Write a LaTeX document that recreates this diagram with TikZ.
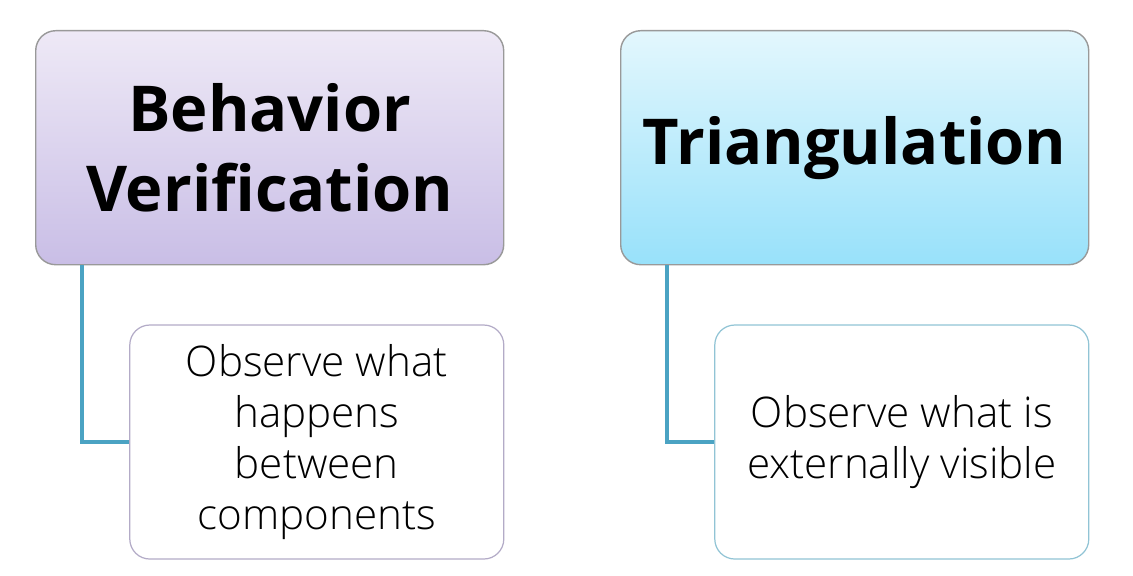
\documentclass[tikz,border=0pt]{standalone}
\usepackage{fontspec}
\setmainfont{Open Sans}
\newfontfamily\lightfont{Open Sans}[UprightFont=* Light]
\usetikzlibrary{positioning}

\definecolor{linkblue}{HTML}{4BA3C3}
\definecolor{purpletop}{HTML}{EEE9F6}
\definecolor{purplebot}{HTML}{C9BEE6}
\definecolor{cyantop}{HTML}{E3F7FD}
\definecolor{cyanbot}{HTML}{98E1FA}

\begin{document}
\begin{tikzpicture}[
    head/.style={rectangle, draw=gray!80, line width=0.8pt, rounded corners=0.4cm,
      minimum width=9.36cm, minimum height=4.68cm, align=center,
      font=\fontsize{36}{46}\selectfont\bfseries},
    note/.style={rectangle, draw, line width=0.7pt, fill=white, rounded corners=0.4cm,
      minimum width=7.48cm, minimum height=4.68cm, align=center,
      font=\lightfont\fontsize{24}{29}\selectfont},
    link/.style={draw=linkblue, line width=2pt}
]
\useasboundingbox (0,0) rectangle (22.66,-11.52);

% Headings
\node[head, top color=purpletop, bottom color=purplebot, anchor=north west] (behav) at (0.70,-0.60) {Behavior\\Verification};
\node[head, top color=cyantop, bottom color=cyanbot, anchor=north west] (triang) at (12.40,-0.60) {Triangulation};

% Notes
\node[note, draw=purplebot!70!gray, below=1.18cm of behav.south east, anchor=north east] (behavnote) {Observe what\\happens\\between\\components};
\node[note, draw=cyanbot!70!gray, below=1.18cm of triang.south east, anchor=north east] (triangnote) {Observe what is\\externally visible};

% Links
\draw[link] (behav.south west) ++(0.94,0) |- (behavnote.west);
\draw[link] (triang.south west) ++(0.94,0) |- (triangnote.west);

\end{tikzpicture}
\end{document}
